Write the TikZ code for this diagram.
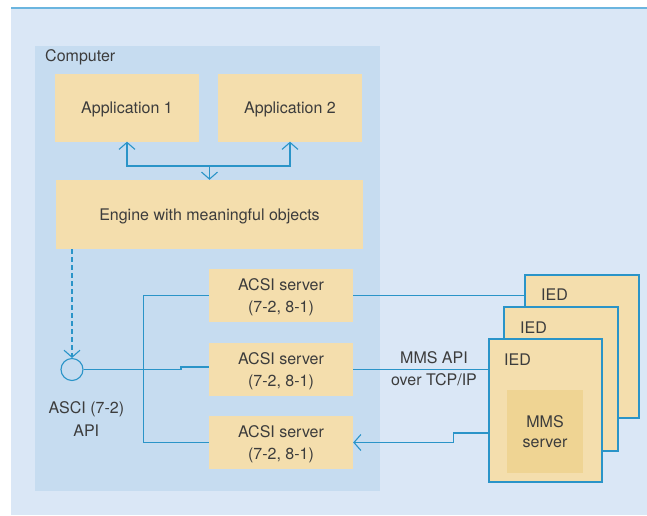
\documentclass[tikz,border=0pt]{standalone}
\usepackage{fontspec}
\setmainfont{TeX Gyre Heros}
\usetikzlibrary{arrows.meta}
\definecolor{bgblue}{HTML}{DAE7F6}
\definecolor{compblue}{HTML}{C6DCF0}
\definecolor{tan}{HTML}{F4DEAD}
\definecolor{darktan}{HTML}{EFD493}
\definecolor{lineblue}{HTML}{2A94C8}
\definecolor{topline}{HTML}{6BB5DF}
\definecolor{txt}{HTML}{3C3C3C}
\tikzset{
  box/.style={fill=tan, draw=none, inner sep=0pt, align=center, text=txt, text depth=0pt},
  iedbox/.style={fill=tan, draw=lineblue, line width=1.2pt, inner sep=0pt},
  conn/.style={draw=lineblue, line width=1.1pt},
  barb/.style={-{Straight Barb[length=7pt,width=16pt,line width=1.1pt]}},
  lbl/.style={text=txt, align=center, inner sep=0pt, text depth=0pt}
}
\begin{document}
\begin{tikzpicture}[x=1pt,y=-1pt,font=\fontsize{16}{22.2}\selectfont]
\useasboundingbox (0,0) rectangle (647,515);
\fill[white] (0,0) rectangle (647,515);
\fill[bgblue] (11,8) rectangle (647,515);
\draw[topline, line width=2pt] (11,8) -- (647,8);
\fill[compblue] (35,46) rectangle (380,491);
\node[lbl, anchor=west] (comp) at (45,56) {Computer};

\node[box, minimum width=144pt, minimum height=68pt] (app1) at (127,107.5) {Application 1};
\node[box, minimum width=144pt, minimum height=68pt] (app2) at (290,107.5) {Application 2};
\node[box, minimum width=307pt, minimum height=69pt] (eng) at (209.5,214.5) {Engine with meaningful objects};

\node[box, minimum width=144pt, minimum height=53pt] (s1) at (281,295.5) {ACSI server\\(7-2, 8-1)};
\node[box, minimum width=144pt, minimum height=53pt] (s2) at (281,369.5) {ACSI server\\(7-2, 8-1)};
\node[box, minimum width=144pt, minimum height=53pt] (s3) at (281,442.5) {ACSI server\\(7-2, 8-1)};

\node[circle, draw=lineblue, line width=1.1pt, minimum size=22pt, inner sep=0pt] (api) at (72,369.5) {};
\node[lbl] (apilbl) at (86.3,419) {ASCI (7-2)\\API};

\node[iedbox, minimum width=114pt, minimum height=143pt] (ied3) at (582,346.5) {};
\node[iedbox, minimum width=114pt, minimum height=144pt] (ied2) at (561,379) {};
\node[iedbox, minimum width=113pt, minimum height=143pt] (ied1) at (545.5,410.5) {};
\node[lbl, anchor=west] (l3) at (541,295) {IED};
\node[lbl, anchor=west] (l2) at (520,328) {IED};
\node[lbl, anchor=west] (l1) at (504,360) {IED};
\node[box, fill=darktan, minimum width=76pt, minimum height=83pt, font=\fontsize{16}{20}\selectfont] (mms) at (545,431.5) {MMS\\server};

\coordinate (hub) at (209.5,166);
\draw[conn, barb] (hub) -- (eng.north);
\draw[conn, barb] (hub) -| (app1.south);
\draw[conn, barb] (hub) -| (app2.south);

\draw[conn, dashed, dash pattern=on 5pt off 3pt, barb] (api |- eng.south) -- (api.north);

\draw[conn] (s1.west) -- ++(-65,0) |- (s3.west);
\draw[conn] (api.east) -- (181,369.5) -- (181,367) -- ([yshift=2.5pt]s2.west);
\draw[conn] (s1.east) -- (s1.east -| ied3.west);
\draw[conn] (s2.east) -- (s2.east -| ied1.west);
\draw[conn, barb] ([yshift=-22.5pt]ied1.west) -- ++(-35,0) |- (s3.east);
\node[lbl] (mmsapi) at (434,368.3) {MMS API\\over TCP/IP};
\end{tikzpicture}
\end{document}
